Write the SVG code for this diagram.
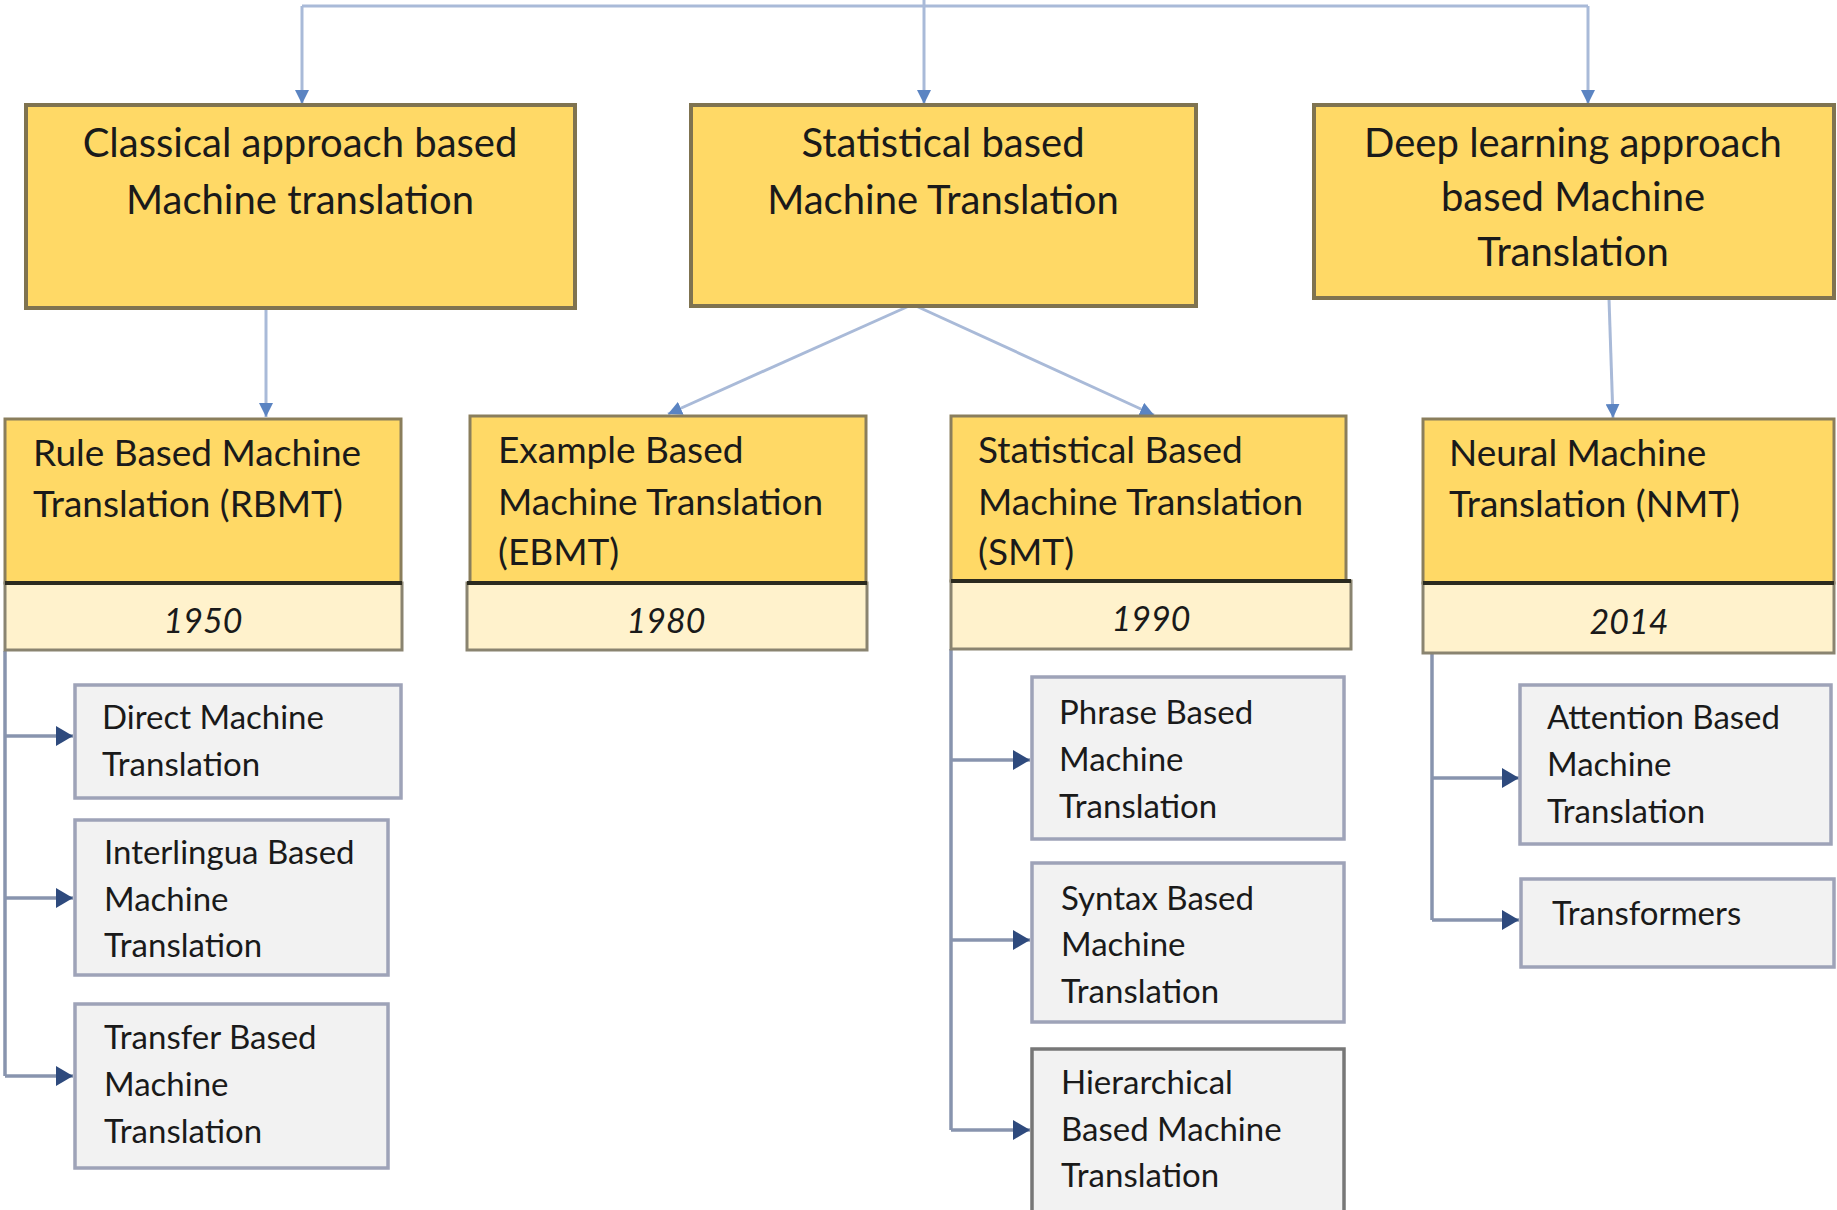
<svg xmlns="http://www.w3.org/2000/svg" width="1837" height="1210" viewBox="0 0 1837 1210">
<style>
  .hdr { fill:#FFD966; stroke:#7F7350; stroke-width:4; }
  .l2 { fill:#FFD966; stroke:#8A7E5C; stroke-width:3; }
  .band { fill:#FFF2CC; stroke:#8A8470; stroke-width:3; }
  .sep { stroke:#2B2A1E; stroke-width:4; }
  .leaf { fill:#F2F2F2; stroke:#9EA3B8; stroke-width:3.5; }
  .leafdark { fill:#F2F2F2; stroke:#777777; stroke-width:3.5; }
  text { font-family:Lato, "Liberation Sans", sans-serif; fill:#1A1A1A; }
  .th { font-size:40px; text-anchor:middle; }
  .t2 { font-size:37px; }
  .ty { font-size:34px; font-style:italic; text-anchor:middle; }
  .tl { font-size:33px; }
  .ctop { stroke:#A9BAD8; stroke-width:3; fill:none; }
  .cleaf { stroke:#8894AE; stroke-width:3.5; fill:none; }
</style>
<defs>
  <marker id="aTop" markerUnits="userSpaceOnUse" markerWidth="16" markerHeight="14" refX="14" refY="7" orient="auto">
    <path d="M0,0 L14,7 L0,14 Z" fill="#5B84C2"/>
  </marker>
  <marker id="aLeaf" markerUnits="userSpaceOnUse" markerWidth="18" markerHeight="20" refX="17" refY="10" orient="auto">
    <path d="M0,0 L17,10 L0,20 Z" fill="#2E4A7D"/>
  </marker>
</defs>

<g id="connectors">
  <path class="ctop" d="M302,6 H1588"/>
  <path class="ctop" d="M302,6 V104" marker-end="url(#aTop)"/>
  <path class="ctop" d="M924,0 V104" marker-end="url(#aTop)"/>
  <path class="ctop" d="M1588,6 V104" marker-end="url(#aTop)"/>
  <path class="ctop" d="M266,309 V417" marker-end="url(#aTop)"/>
  <path class="ctop" d="M909,306 L668,414" marker-end="url(#aTop)"/>
  <path class="ctop" d="M916,306 L1154,415" marker-end="url(#aTop)"/>
  <path class="ctop" d="M1609,299 L1613,418" marker-end="url(#aTop)"/>

  <path class="cleaf" d="M5,651 V1076"/>
  <path class="cleaf" d="M5,736 H73" marker-end="url(#aLeaf)"/>
  <path class="cleaf" d="M5,898 H73" marker-end="url(#aLeaf)"/>
  <path class="cleaf" d="M5,1076 H73" marker-end="url(#aLeaf)"/>

  <path class="cleaf" d="M951,649 V1130"/>
  <path class="cleaf" d="M951,760 H1030" marker-end="url(#aLeaf)"/>
  <path class="cleaf" d="M951,940 H1030" marker-end="url(#aLeaf)"/>
  <path class="cleaf" d="M951,1130 H1030" marker-end="url(#aLeaf)"/>

  <path class="cleaf" d="M1432,654 V920"/>
  <path class="cleaf" d="M1432,778 H1519" marker-end="url(#aLeaf)"/>
  <path class="cleaf" d="M1432,920 H1519" marker-end="url(#aLeaf)"/>
</g>

<g id="classical">
  <rect class="hdr" x="26" y="105" width="549" height="203"/>
  <text class="th" x="300" y="157">Classical approach based</text>
  <text class="th" x="300" y="214">Machine translation</text>
</g>
<g id="statistical">
  <rect class="hdr" x="691" y="105" width="505" height="201"/>
  <text class="th" x="943" y="157">Statistical based</text>
  <text class="th" x="943" y="214">Machine Translation</text>
</g>
<g id="deep">
  <rect class="hdr" x="1314" y="105" width="520" height="193"/>
  <text class="th" x="1573" y="157">Deep learning approach</text>
  <text class="th" x="1573" y="211">based Machine</text>
  <text class="th" x="1573" y="266">Translation</text>
</g>

<g id="rbmt">
  <rect class="l2" x="5" y="419" width="396" height="164"/>
  <rect class="band" x="5" y="583" width="397" height="67"/>
  <line class="sep" x1="5" y1="583" x2="402" y2="583"/>
  <text class="t2" x="33" y="466">Rule Based Machine</text>
  <text class="t2" x="33" y="517">Translation (RBMT)</text>
  <text class="ty" x="203" y="633">1950</text>
</g>
<g id="ebmt">
  <rect class="l2" x="470" y="416" width="396" height="167"/>
  <rect class="band" x="467" y="583" width="400" height="67"/>
  <line class="sep" x1="467" y1="583" x2="867" y2="583"/>
  <text class="t2" x="498" y="463">Example Based</text>
  <text class="t2" x="498" y="515">Machine Translation</text>
  <text class="t2" x="498" y="565">(EBMT)</text>
  <text class="ty" x="666" y="633">1980</text>
</g>
<g id="smt">
  <rect class="l2" x="951" y="416" width="395" height="165"/>
  <rect class="band" x="951" y="581" width="400" height="68"/>
  <line class="sep" x1="951" y1="581" x2="1351" y2="581"/>
  <text class="t2" x="978" y="463">Statistical Based</text>
  <text class="t2" x="978" y="515">Machine Translation</text>
  <text class="t2" x="978" y="565">(SMT)</text>
  <text class="ty" x="1151" y="631">1990</text>
</g>
<g id="nmt">
  <rect class="l2" x="1423" y="419" width="411" height="164"/>
  <rect class="band" x="1423" y="583" width="411" height="70"/>
  <line class="sep" x1="1423" y1="583" x2="1834" y2="583"/>
  <text class="t2" x="1449" y="466">Neural Machine</text>
  <text class="t2" x="1449" y="517">Translation (NMT)</text>
  <text class="ty" x="1629" y="634">2014</text>
</g>

<g id="direct">
  <rect class="leaf" x="75" y="685" width="326" height="113"/>
  <text class="tl" x="102" y="729">Direct Machine</text>
  <text class="tl" x="102" y="776">Translation</text>
</g>
<g id="interlingua">
  <rect class="leaf" x="75" y="820" width="313" height="155"/>
  <text class="tl" x="104" y="864">Interlingua Based</text>
  <text class="tl" x="104" y="911">Machine</text>
  <text class="tl" x="104" y="957">Translation</text>
</g>
<g id="transfer">
  <rect class="leaf" x="75" y="1004" width="313" height="164"/>
  <text class="tl" x="104" y="1049">Transfer Based</text>
  <text class="tl" x="104" y="1096">Machine</text>
  <text class="tl" x="104" y="1143">Translation</text>
</g>
<g id="phrase">
  <rect class="leaf" x="1032" y="677" width="312" height="162"/>
  <text class="tl" x="1059" y="724">Phrase Based</text>
  <text class="tl" x="1059" y="771">Machine</text>
  <text class="tl" x="1059" y="818">Translation</text>
</g>
<g id="syntax">
  <rect class="leaf" x="1032" y="863" width="312" height="159"/>
  <text class="tl" x="1061" y="910">Syntax Based</text>
  <text class="tl" x="1061" y="956">Machine</text>
  <text class="tl" x="1061" y="1003">Translation</text>
</g>
<g id="hierarchical">
  <rect class="leafdark" x="1032" y="1049" width="312" height="170"/>
  <text class="tl" x="1061" y="1094">Hierarchical</text>
  <text class="tl" x="1061" y="1141">Based Machine</text>
  <text class="tl" x="1061" y="1187">Translation</text>
</g>
<g id="attention">
  <rect class="leaf" x="1520" y="685" width="311" height="159"/>
  <text class="tl" x="1547" y="729">Attention Based</text>
  <text class="tl" x="1547" y="776">Machine</text>
  <text class="tl" x="1547" y="823">Translation</text>
</g>
<g id="transformers">
  <rect class="leaf" x="1521" y="879" width="313" height="88"/>
  <text class="tl" x="1552" y="925">Transformers</text>
</g>
</svg>
